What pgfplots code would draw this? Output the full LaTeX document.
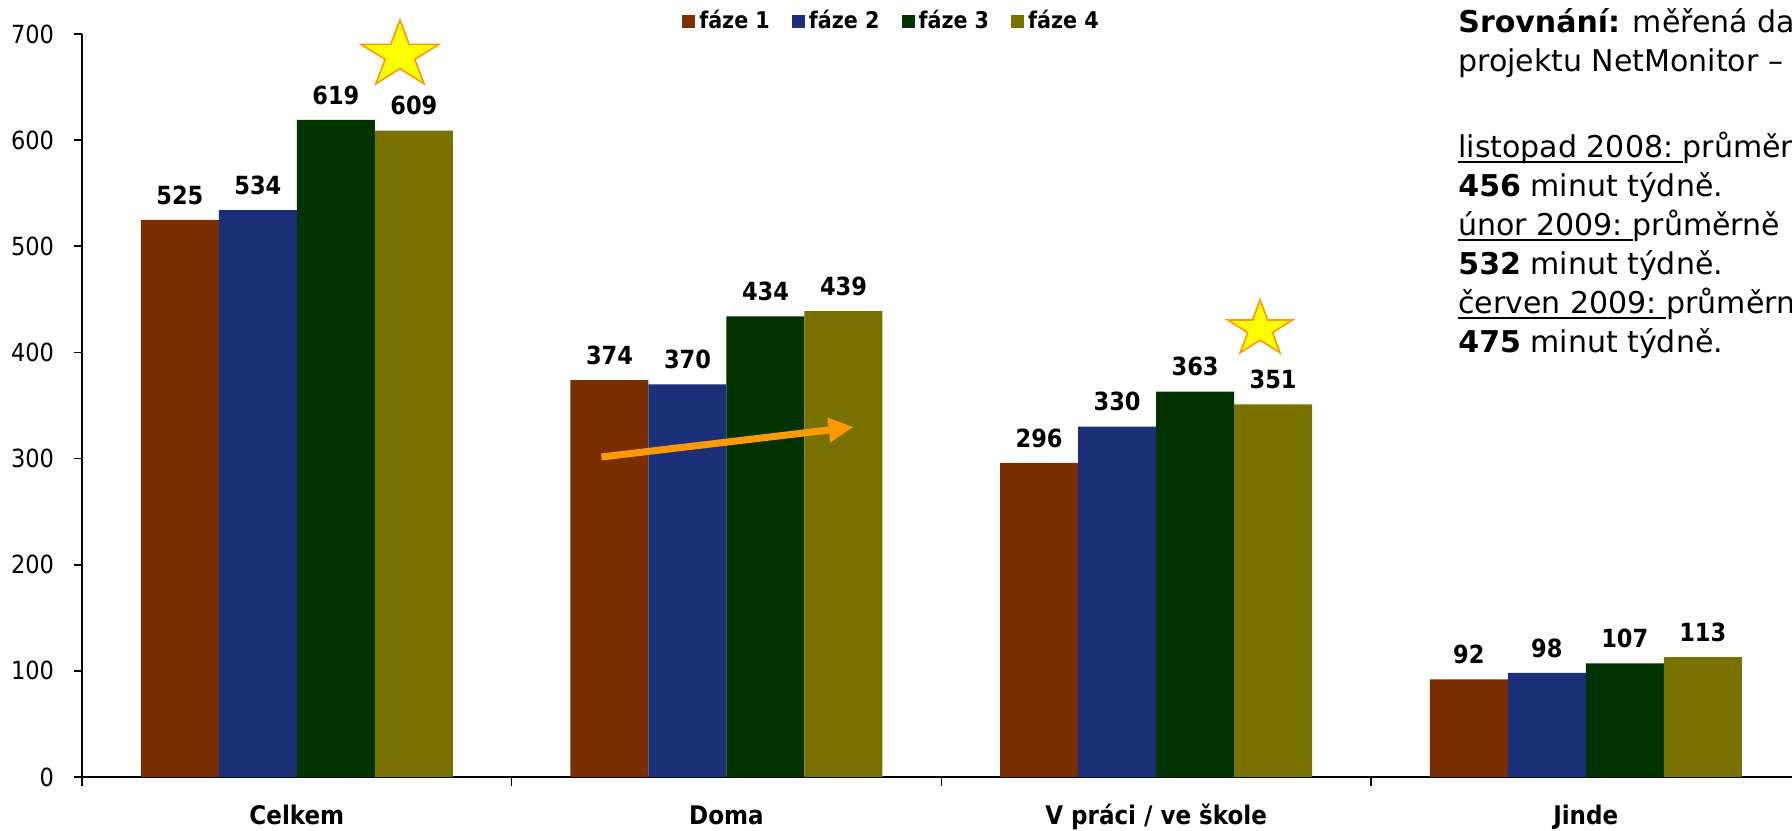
\documentclass[border=0pt]{standalone}
\usepackage{pgfplots}
\pgfplotsset{compat=1.18}
\usepackage{fontspec}
\setmainfont{DejaVu Sans}
\newfontfamily\cond{DejaVu Sans Condensed}
\usetikzlibrary{shapes.geometric,arrows.meta}
\definecolor{cA}{RGB}{122,47,3}
\definecolor{cB}{RGB}{27,48,120}
\definecolor{cC}{RGB}{0,51,0}
\definecolor{cD}{RGB}{120,113,0}
\definecolor{orng}{RGB}{255,153,0}
\definecolor{yel}{RGB}{255,255,0}
\newcommand\ul[1]{\setbox0\hbox{#1}\rlap{\rule[-2.6pt]{\wd0}{1.1pt}}\box0}
\begin{document}
\begin{tikzpicture}
\begin{axis}[
  scale only axis, width=855pt, height=371.5pt,
  at={(0pt,0pt)}, anchor=south west,
  xmin=-0.5, xmax=3.48, ymin=0, ymax=700,
  clip=false,
  axis lines*=left, axis line style={-, line width=0.8pt},
  ybar=0pt, bar width=39pt,
  ytick={0,100,...,700},
  xtick={0,1,2,3},
  xticklabels={Celkem,Doma,V práci / ve škole,Jinde},
  minor xtick={-0.5,0.5,1.5,2.5},
  tick align=outside,
  major tick length=4pt, minor tick length=4.5pt,
  major x tick style={draw=none},
  tick style={black, line width=0.8pt},
  /pgf/number format/assume math mode=true,
  yticklabel style={font=\cond\fontsize{12.5}{14}\selectfont, xshift=-6.5pt},
  xticklabel style={font=\cond\bfseries\fontsize{12.8}{15}\selectfont, anchor=base, yshift=-19.5pt},
  nodes near coords,
  every node near coord/.append style={font=\cond\bfseries\fontsize{12.5}{14}\selectfont, inner sep=0pt, anchor=south, yshift=7.5pt, black},
  legend style={at={(0.474,1.0175)}, anchor=center, legend columns=4, draw=none, fill=none,
    font=\cond\bfseries\fontsize{11.5}{13}\selectfont, inner sep=0pt,
    /tikz/every even column/.append style={column sep=9pt}},
  legend image code/.code={\fill[#1] (0pt,-3.25pt) rectangle (6.5pt,3.25pt);},
]
\addplot[fill=cA, draw=none] coordinates {(0,525) (1,374) (2,296) (3,92)};
\addplot[fill=cB, draw=none] coordinates {(0,534) (1,370) (2,330) (3,98)};
\addplot[fill=cC, draw=none] coordinates {(0,619) (1,434) (2,363) (3,107)};
\addplot[fill=cD, draw=none] coordinates {(0,609) (1,439) (2,351) (3,113)};
\legend{fáze 1,fáze 2,fáze 3,fáze 4}
\draw[orng, line width=3.5pt, -{Triangle[length=12.5pt,width=11.5pt]}] (axis cs:0.709,301.5) -- (axis cs:1.296,329.7);
\node[star, star points=5, star point ratio=2.618, fill=yel, draw=orng, line width=0.8pt, minimum size=41pt, inner sep=0pt, yscale=0.86, transform shape] at (axis cs:0.240,680) {};
\node[star, star points=5, star point ratio=2.618, fill=yel, draw=orng, line width=0.8pt, minimum size=34pt, inner sep=0pt, yscale=0.86, transform shape] at (axis cs:2.242,422) {};
\end{axis}
\begin{scope}[every node/.style={anchor=base west, inner sep=0pt, font=\fontsize{15}{18}\selectfont}]
\node at (688pt,372pt) {\textbf{Srovnání:} měřená data};
\node at (688pt,352.5pt) {projektu NetMonitor – internet};
\node at (688pt,309.5pt) {\ul{listopad 2008:\ }průměrně};
\node at (688pt,290pt) {\textbf{456} minut týdně.};
\node at (688pt,270.5pt) {\ul{únor 2009:\ }průměrně};
\node at (688pt,251pt) {\textbf{532} minut týdně.};
\node at (688pt,231.5pt) {\ul{červen 2009:\ }průměrně};
\node at (688pt,212pt) {\textbf{475} minut týdně.};
\end{scope}
\pgfresetboundingbox
\useasboundingbox (-41pt,-26.5pt) rectangle (855pt,388.5pt);
\end{tikzpicture}
\end{document}
